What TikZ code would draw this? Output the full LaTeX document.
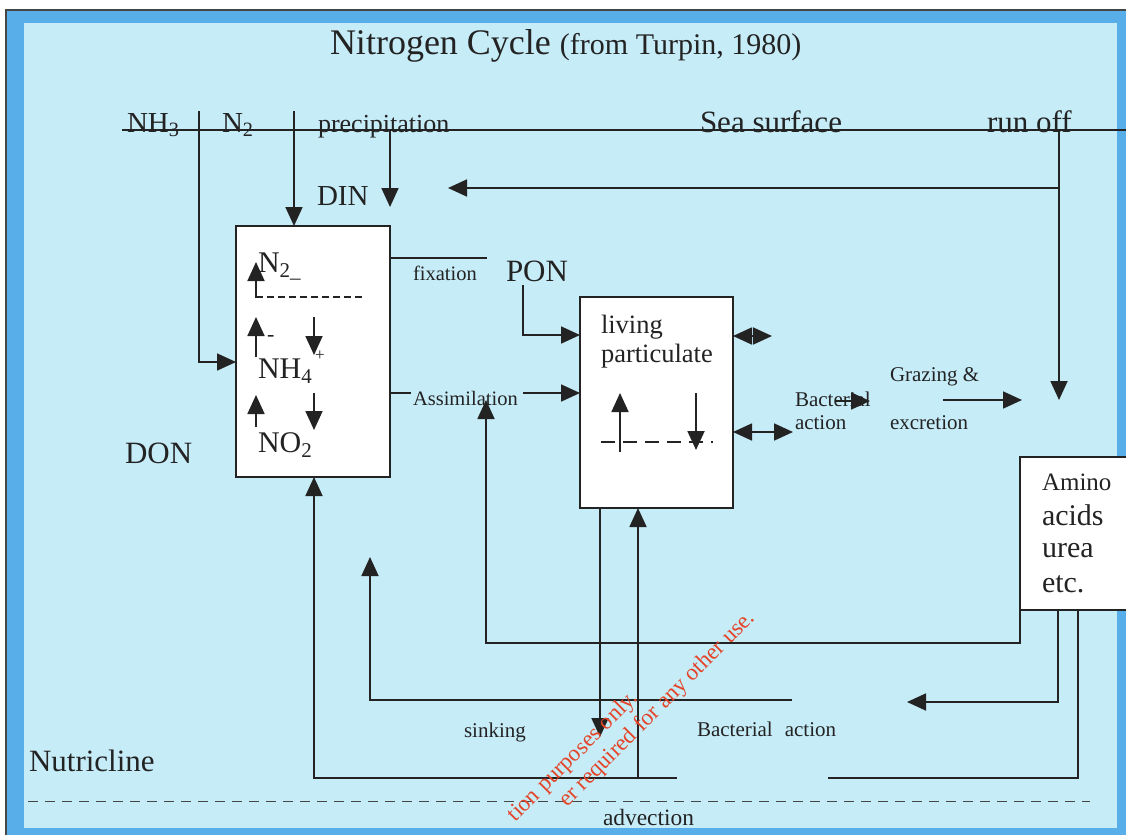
\documentclass[tikz,border=0pt]{standalone}
\usepackage{fontspec}
\setmainfont{Liberation Serif}
\usetikzlibrary{arrows.meta}
\definecolor{ink}{RGB}{35,35,35}
\definecolor{bandblue}{RGB}{88,174,232}
\definecolor{bgblue}{RGB}{198,236,248}
\definecolor{wmred}{RGB}{228,68,40}
\definecolor{framegray}{RGB}{70,70,70}
\newcommand{\FSz}[1]{\fontsize{#1}{#1}\selectfont}
\begin{document}
\begin{tikzpicture}[x=1pt,y=-1pt,
  ln/.style={line width=1.8pt,draw=ink},
  arr/.style={ln,-{Triangle[length=19pt,width=17pt]}},
  darr/.style={ln,{Triangle[length=19pt,width=17pt]}-{Triangle[length=19pt,width=17pt]}},
  lbl/.style={inner sep=0pt,outer sep=0pt,text=ink,anchor=base west},
  box/.style={draw=ink,line width=1.8pt,fill=white,inner sep=0pt,outer sep=0pt},
  dshA/.style={line width=1.5pt,draw=ink,dash pattern=on 7pt off 4pt},
  dshB/.style={line width=1.5pt,draw=ink,dash pattern=on 14pt off 8pt},
  wm/.style={inner sep=0pt,text=wmred,anchor=base east,rotate=45,font=\FSz{23}}]
\useasboundingbox (0,0) rectangle (1126,835);
% frame and background
\fill[white] (0,0) rectangle (1126,835);
\fill[bandblue] (6,10) rectangle (1126,835);
\draw[framegray,line width=1.2pt] (6,835) -- (6,10) -- (1126,10);
\fill[bgblue] (24,23) rectangle (1117,828);

% title
\node[lbl] (title) at (330,54) {\FSz{36}Nitrogen Cycle \FSz{30}(from Turpin, 1980)};

% boxes
\node[box,minimum width=154pt,minimum height=251pt] (b1) at (313,351.5) {};
\node[box,minimum width=153pt,minimum height=211pt] (b2) at (656.5,402.5) {};
\node[box,minimum width=120pt,minimum height=153pt] (b3) at (1080,533.5) {};

% sea surface line and labels
\coordinate (ss1) at (122,130);
\coordinate (ss2) at (1126,130);
\draw[ln] (ss1) -- (ss2);
\node[lbl] (nh3) at (127,132) {\FSz{29}NH\textsubscript{3}};
\node[lbl] (n2) at (222,132) {\FSz{29}N\textsubscript{2}};
\node[lbl] (prec) at (318,132) {\FSz{26}precipitation};
\node[lbl] (sea) at (700,132) {\FSz{31}Sea surface};
\node[lbl] (run) at (987,132) {\FSz{31}run off};
\node[lbl] (din) at (317,205) {\FSz{29}DIN};

% inputs from the surface
\coordinate (nh3t) at (199,111);
\coordinate (nh3b) at (199,362);
\draw[arr] (nh3t) -- (nh3b) -- (nh3b -| b1.west);
\coordinate (n2t) at (294,111);
\draw[arr] (n2t) -- (n2t |- b1.north);
\coordinate (prt) at (390,130);
\coordinate (prb) at (390,207);
\draw[arr] (prt) -- (prb);
\coordinate (rot) at (1059,130);
\coordinate (rob) at (1059,400);
\draw[arr] (rot) -- (rob);
\coordinate (dinr) at (1059,188);
\coordinate (dinl) at (448,188);
\draw[arr] (dinr) -- (dinl);

% inside box 1
\node[lbl] (n2in) at (258,272) {\FSz{30}N\textsubscript{2\_}};
\coordinate (ia1) at (256,298); \coordinate (ia2) at (256,262);
\draw[arr] (ia1) -- (ia2);
\coordinate (id1) at (256,297); \coordinate (id2) at (363,297);
\draw[dshA] (id1) -- (id2);
\coordinate (ib1) at (256,357); \coordinate (ib2) at (256,317);
\draw[arr] (ib1) -- (ib2);
\node[lbl] (minus) at (267,341) {\FSz{22}-};
\coordinate (ic1) at (314,317); \coordinate (ic2) at (314,355);
\draw[arr] (ic1) -- (ic2);
\node[lbl] (nh4) at (258,378) {\FSz{30}NH\textsubscript{4}};
\node[lbl] (plus) at (315,360) {\FSz{17}+};
\coordinate (ie1) at (256,427); \coordinate (ie2) at (256,395);
\draw[arr] (ie1) -- (ie2);
\coordinate (if1) at (314,393); \coordinate (if2) at (314,430);
\draw[arr] (if1) -- (if2);
\node[lbl] (no2) at (258,452) {\FSz{30}NO\textsubscript{2}};
\node[lbl] (don) at (125,463) {\FSz{31}DON};

% fixation / PON / assimilation
\coordinate (fx) at (487,258);
\draw[ln] (b1.east |- fx) -- (fx);
\node[lbl] (fix) at (413,280) {\FSz{20.5}fixation};
\node[lbl] (pon) at (506,281) {\FSz{31}PON};
\coordinate (pon1) at (523,285);
\coordinate (pon2) at (523,335);
\draw[arr] (pon1) -- (pon2) -- (pon2 -| b2.west);
\coordinate (as1) at (411,393);
\draw[ln] (b1.east |- as1) -- (as1);
\node[lbl] (assim) at (413,405) {\FSz{20.5}Assimilation};
\coordinate (as2) at (523,393);
\draw[arr] (as2) -- (as2 -| b2.west);

% box 2
\node[lbl] (living) at (601,333) {\FSz{26.5}living};
\node[lbl] (partic) at (601,362) {\FSz{26.5}particulate};
\coordinate (ja1) at (620,452); \coordinate (ja2) at (620,393);
\draw[arr] (ja1) -- (ja2);
\coordinate (jb1) at (696,393); \coordinate (jb2) at (696,450);
\draw[arr] (jb1) -- (jb2);
\coordinate (jd1) at (601,442); \coordinate (jd2) at (713,442);
\draw[dshB] (jd1) -- (jd2);
\coordinate (dd1) at (772,336);
\draw[darr] (b2.east |- dd1) -- (dd1);
\coordinate (dd2) at (793,432);
\draw[darr] (b2.east |- dd2) -- (dd2);

% bacterial / grazing
\node[lbl] (bact) at (795,406) {\FSz{21}Bacterial};
\node[lbl] (bacta) at (795,429) {\FSz{21}action};
\coordinate (bc1) at (835,401); \coordinate (bc2) at (870,401);
\draw[arr] (bc1) -- (bc2);
\node[lbl] (graz) at (890,381) {\FSz{21}Grazing \&};
\node[lbl] (excr) at (890,429) {\FSz{21}excretion};
\coordinate (g1) at (943,400); \coordinate (g2) at (1022,400);
\draw[arr] (g1) -- (g2);

% box 3
\node[lbl] (amino) at (1042,490) {\FSz{25}Amino};
\node[lbl] (acids) at (1042,525) {\FSz{30}acids};
\node[lbl] (urea) at (1042,557) {\FSz{30}urea};
\node[lbl] (etc) at (1042,592) {\FSz{30}etc.};

% lower connectors
\coordinate (l1) at (677,778);
\coordinate (l1x) at (314,778);
\draw[arr] (l1) -- (l1x) -- (l1x |- b1.south);
\coordinate (l2) at (638,778);
\draw[arr] (l2) -- (l2 |- b2.south);
\coordinate (sk) at (600,737);
\draw[arr] (sk |- b2.south) -- (sk);
\coordinate (l4) at (792,700);
\coordinate (l4x) at (370,700);
\coordinate (l4t) at (370,557);
\draw[arr] (l4) -- (l4x) -- (l4t);
\coordinate (l5a) at (1020,643);
\coordinate (l5b) at (486,643);
\coordinate (l5t) at (486,400);
\draw[arr] (b3.south west) -- (l5a) -- (l5b) -- (l5t);
\coordinate (l6a) at (1058,702);
\coordinate (l6t) at (907,702);
\draw[arr] (l6a |- b3.south) -- (l6a) -- (l6t);
\coordinate (l7a) at (1078,778);
\coordinate (l7t) at (828,778);
\draw[ln] (l7a |- b3.south) -- (l7a) -- (l7t);

\node[lbl] (sink) at (464,737) {\FSz{21}sinking};
\node[lbl] (bact2) at (697,736) {\FSz{21}Bacterial\hspace{12pt}action};

% nutricline
\node[lbl] (nutri) at (29,771) {\FSz{31}Nutricline};
\coordinate (nc1) at (28,801); \coordinate (nc2) at (1090,801);
\draw[framegray,line width=1pt,dash pattern=on 10pt off 7pt] (nc1) -- (nc2);
\node[lbl] (adv) at (603,825) {\FSz{23.4}advection};

% watermark
\node[wm] (wm1) at (639,699) {tion purposes only.};
\node[wm] (wm2) at (756,619) {er required for any other use.};
\end{tikzpicture}
\end{document}
